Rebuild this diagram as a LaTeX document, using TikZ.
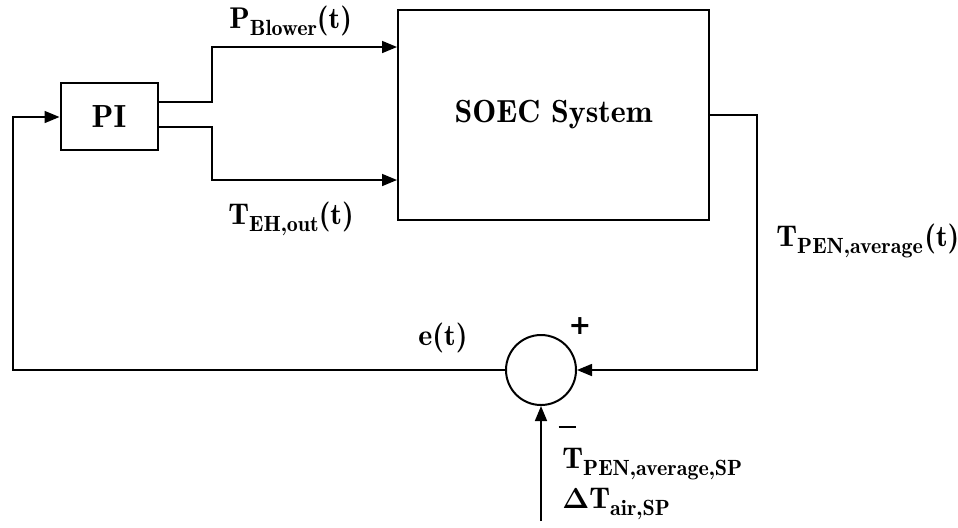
\documentclass[tikz,border=0pt]{standalone}
\usepackage{fontspec}
\usetikzlibrary{arrows.meta}
\newfontfamily\demi[Extension=.otf]{lmromandemi10-regular}
\newfontfamily\signfont{DejaVu Sans}
% symbol with a subscript, set in the demi weight
\newcommand{\symb}[2]{{\fontsize{15}{18}\selectfont #1}\raisebox{-3.6pt}{\fontsize{11}{12}\selectfont #2}}
\newcommand{\boldplus}{\mbox{\signfont\bfseries\fontsize{13.5}{15}\selectfont +}}
\begin{document}
\begin{tikzpicture}[x=0.5pt,y=-0.5pt,
  blk/.style={draw,line width=1pt,inner sep=0pt},
  sig/.style={line width=0.8pt,-{Triangle[length=7.5pt,width=6pt]}},
  lbl/.style={font=\demi\fontsize{16}{18}\selectfont,inner sep=0pt},
  sl/.style={font=\demi\fontsize{15}{18}\selectfont,inner sep=0pt,anchor=base west}]
\useasboundingbox (0,0) rectangle (958,527);

% blocks
\node[blk,minimum width=48.5pt,minimum height=33.5pt] (pi) at (109,116.5) {};
\node[lbl] at (pi.center) {PI};
\node[blk,minimum width=155.5pt,minimum height=105pt] (soec) at (553.5,115) {};
\node[lbl] at (soec.center) {SOEC System};
\node[draw,circle,line width=1pt,minimum size=35pt,inner sep=0pt] (sum) at (541,370) {};
\coordinate (ref) at (541,521);

% controller outputs to the plant
\coordinate (p1) at (157.5,102);
\coordinate (p2) at (157.5,127);
\draw[sig] (p1) -- (212,102) -- (212,47) -- (soec.west |- 0,47);
\draw[sig] (p2) -- (212,127) -- (212,180) -- (soec.west |- 0,180);

% plant output back to the summing junction
\draw[sig] (soec.east |- 0,115) -- (757,115) -- (757,370) -- (sum.east);
% error signal into the controller
\draw[sig] (sum.west) -- (13,370) -- (13,117) -- (pi.west |- 0,117);
% set point
\draw[sig] (ref) -- (sum.south);

% labels
\node[sl] at (229,28) {\symb{P}{Blower}(t)};
\node[sl] at (228,224) {\symb{T}{EH,out}(t)};
\node[sl] at (776,246) {\symb{T}{PEN,average}\kern0.8pt(t)};
\node[sl] at (418,345) {e(t)};
\node[inner sep=0pt] (plus) at (580,326) {\boldplus};
\node[inner sep=0pt] (minus) at (567,427) {\rule{8.5pt}{1.1pt}};
\node[sl] at (562,468) {\symb{T}{PEN,average,SP}};
\node[sl] at (562,508) {\symb{{\boldmath$\Delta$}T}{air,SP}};
\end{tikzpicture}
\end{document}
